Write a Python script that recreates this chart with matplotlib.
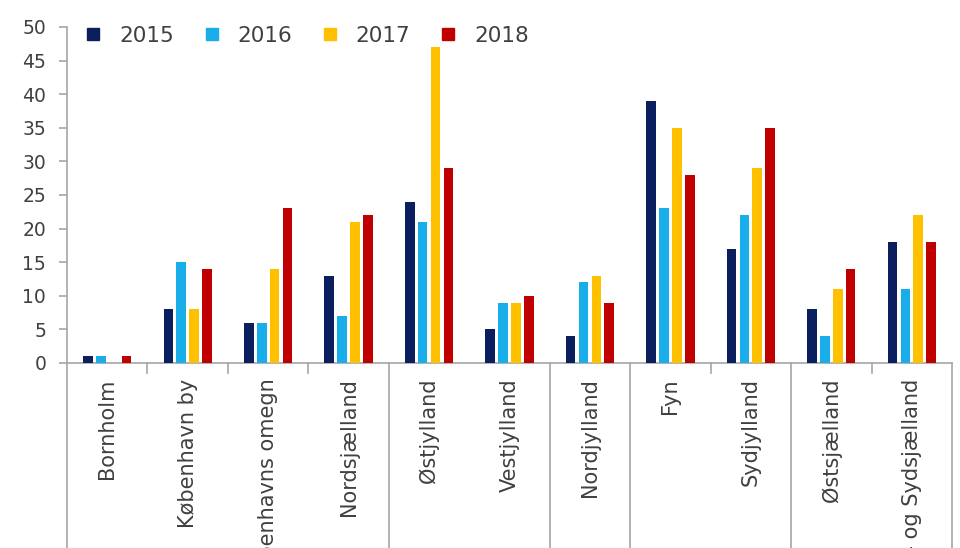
import matplotlib
matplotlib.use("Agg")
import matplotlib.pyplot as plt
from matplotlib.lines import Line2D
import numpy as np

categories = ["Bornholm", "København by", "Københavns omegn", "Nordsjælland",
              "Østjylland", "Vestjylland", "Nordjylland", "Fyn", "Sydjylland",
              "Østsjælland", "Vest- og Sydsjælland"]
years = ["2015", "2016", "2017", "2018"]
v2015 = [1, 8, 6, 13, 24, 5, 4, 39, 17, 8, 18]
v2016 = [1, 15, 6, 7, 21, 9, 12, 23, 22, 4, 11]
v2017 = [0, 8, 14, 21, 47, 9, 13, 35, 29, 11, 22]
v2018 = [1, 14, 23, 22, 29, 10, 9, 28, 35, 14, 18]
series = [v2015, v2016, v2017, v2018]
colors = ["#0B1F5E", "#19ADE9", "#FFC000", "#C00000"]
yticks = [0, 5, 10, 15, 20, 25, 30, 35, 40, 45, 50]
long_seps = [-0.5, 3.5, 5.5, 6.5, 8.5, 10.5]
short_seps = [0.5, 1.5, 2.5, 7.5, 9.5]

plt.rcParams['font.family'] = ['DejaVu Sans']
txt = "#404040"
grey = "#A6A6A6"

fig = plt.figure(figsize=(9.6, 5.48), dpi=100)
ax = fig.add_axes([67/960, (548-363)/548, 885/960, 336/548])

x = np.arange(len(categories))
step = 0.16
w = 0.12
for i, (vals, c) in enumerate(zip(series, colors)):
    ax.bar(x + (i - 1.5) * step, vals, width=w, color=c, zorder=3)

ax.set_xlim(-0.5, len(categories) - 0.5)
ax.set_ylim(0, 50)
ax.set_yticks(yticks)
ax.set_yticklabels([str(t) for t in yticks], fontsize=13.5, color=txt)
ax.tick_params(axis='y', direction='out', length=6, color=grey, width=1.2, pad=9)

ax.set_xticks(x)
ax.set_xticklabels(categories, rotation=90, fontsize=15, color=txt)
ax.tick_params(axis='x', length=0, pad=11)

for s in ["top", "right"]:
    ax.spines[s].set_visible(False)
for s in ["left", "bottom"]:
    ax.spines[s].set_color(grey)
    ax.spines[s].set_linewidth(1.2)

trans = ax.get_xaxis_transform()
for s in long_seps:
    ax.plot([s, s], [0, -1], transform=trans, color=grey, lw=1.2, clip_on=False, zorder=1)
for s in short_seps:
    ax.plot([s, s], [0, -0.03], transform=trans, color=grey, lw=1.2, clip_on=False, zorder=1)

handles = [Line2D([], [], marker='s', linestyle='none', markersize=8,
                  markerfacecolor=c, markeredgecolor=c) for c in colors]
leg = ax.legend(handles, years, loc='upper left', ncol=4, frameon=False,
                bbox_to_anchor=(87/960, 1 - 26/548), bbox_transform=fig.transFigure,
                fontsize=15.5, handlelength=0.6, handletextpad=0.9, columnspacing=1.45,
                borderaxespad=0, borderpad=0)
for t in leg.get_texts():
    t.set_color(txt)

fig.savefig("out.png", dpi=100)
